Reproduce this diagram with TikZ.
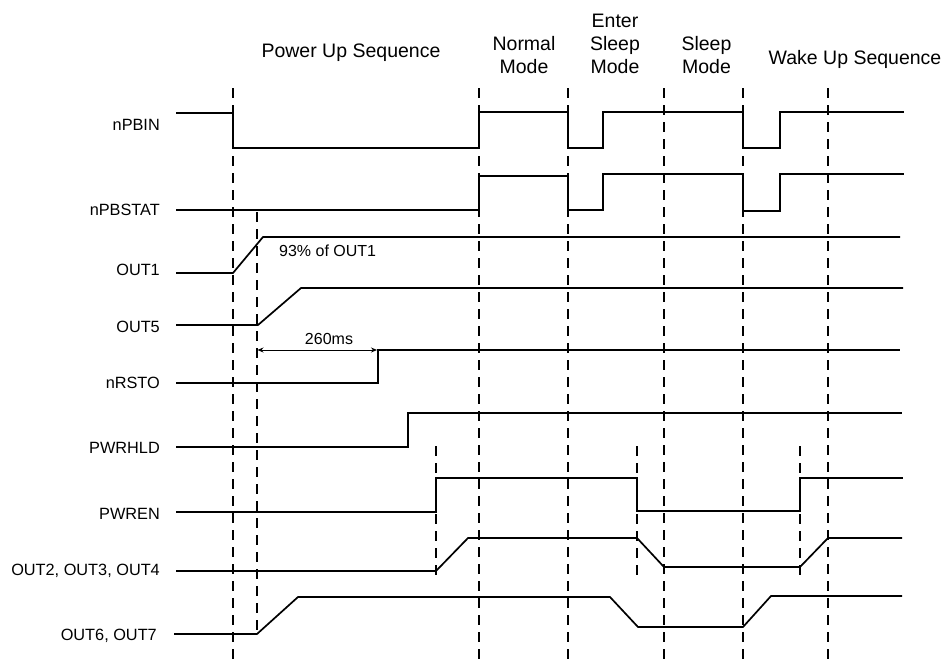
\documentclass[tikz,border=0pt]{standalone}
\usepackage{fontspec}
\setmainfont{Liberation Sans}
\usetikzlibrary{arrows.meta}
\begin{document}
\begin{tikzpicture}[x=1pt,y=-1pt,
  wave/.style={line width=1.7pt, line join=miter},
  guide/.style={line width=1.5pt, dash pattern=on 10pt off 7pt},
  sig/.style={anchor=base east, inner sep=0pt, font=\fontsize{16.3}{20}\selectfont},
  hdr/.style={anchor=base, inner sep=0pt, align=center, font=\fontsize{19.5}{23}\selectfont},
  note/.style={anchor=base west, inner sep=0pt, font=\fontsize{16}{20}\selectfont},
  dim/.style={line width=0.9pt, {Stealth[length=6pt,width=5pt]}-{Stealth[length=6pt,width=5pt]}}]
\path[use as bounding box] (0,0) rectangle (946,662);

% guide lines
\foreach \gx in {233,479,568,664,743,828}
  \draw[guide] (\gx,88) -- (\gx,662);
\draw[guide] (257,212) -- (257,637);
\foreach \gx in {436,637,800}
  \draw[guide] (\gx,446) -- (\gx,577);

% headers
\node[hdr] (hpu) at (351,57) {Power Up Sequence};
\node[hdr,anchor=south] (hnm) at (524,74) {Normal\\Mode};
\node[hdr,anchor=south] (hes) at (615,74) {Enter\\Sleep\\Mode};
\node[hdr,anchor=south] (hsm) at (706.5,74) {Sleep\\Mode};
\node[hdr] (hwu) at (855,64) {Wake Up Sequence};

% signal labels
\node[sig] (lpbin) at (160,130.5) {nPBIN};
\node[sig] (lpbstat) at (160,215) {nPBSTAT};
\node[sig] (lout1) at (160,275) {OUT1};
\node[sig] (lout5) at (160,332) {OUT5};
\node[sig] (lrsto) at (160,388.5) {nRSTO};
\node[sig] (lhld) at (160,453) {PWRHLD};
\node[sig] (len) at (160,519) {PWREN};
\node[sig] (lout234) at (160,575) {OUT2, OUT3, OUT4};
\node[sig] (lout67) at (157,640.5) {OUT6, OUT7};

% nPBIN
\draw[wave] (176,113) -- (233,113) -- (233,148) -- (479,148) -- (479,112) -- (568,112)
  -- (568,148) -- (603,148) -- (603,112) -- (743,112) -- (743,148) -- (780,148)
  -- (780,112) -- (904,112);
% nPBSTAT
\draw[wave] (176,210) -- (479,210) -- (479,176) -- (568,176) -- (568,210) -- (603,210)
  -- (603,174) -- (743,174) -- (743,211) -- (780,211) -- (780,174) -- (904,174);
% OUT1
\draw[wave] (176,273) -- (233,273) -- (263,237) -- (900,237);
\node[note] (n93) at (279,256) {93\% of OUT1};
% OUT5
\draw[wave] (176,325) -- (258,325) -- (301,288) -- (903,288);
% nRSTO
\draw[wave] (176,383) -- (378,383) -- (378,350) -- (900,350);
\coordinate (d1) at (257.5,350);
\coordinate (d2) at (377,350);
\draw[dim] (d1) -- (d2);
\node[anchor=base, inner sep=0pt, font=\fontsize{16}{20}\selectfont] (n260) at (329,344) {260ms};
% PWRHLD
\draw[wave] (176,447) -- (408,447) -- (408,413) -- (902,413);
% PWREN
\draw[wave] (176,512) -- (436,512) -- (436,478) -- (637,478) -- (637,511) -- (800,511)
  -- (800,478) -- (903,478);
% OUT2,3,4
\draw[wave] (176,571) -- (436,571) -- (468,538) -- (637,538) -- (664,567) -- (800,567)
  -- (828,538) -- (902,538);
% OUT6,7
\draw[wave] (174,634) -- (257,634) -- (298,597) -- (610,597) -- (638,627) -- (743,627)
  -- (771,596) -- (902,596);
\end{tikzpicture}
\end{document}
